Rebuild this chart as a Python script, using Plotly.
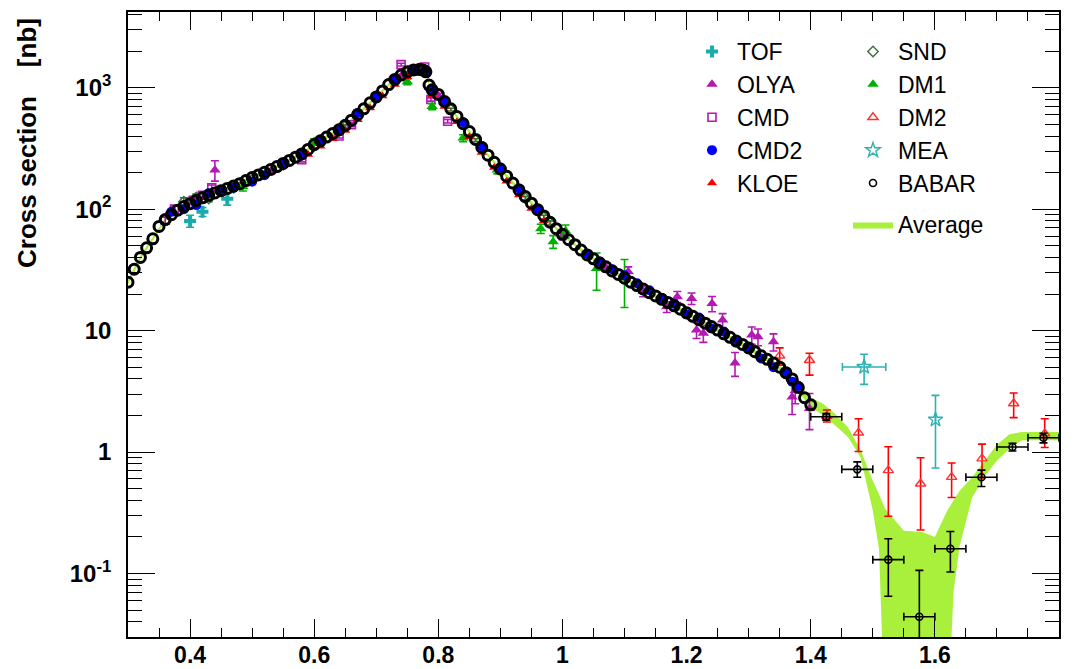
import math
import plotly.graph_objects as go

# ---------------- data ----------------
babar_x = [0.30, 0.31, 0.32, 0.33, 0.34, 0.35, 0.36, 0.37, 0.38, 0.39,
           0.40, 0.41, 0.42, 0.43, 0.44, 0.45, 0.46, 0.47, 0.48, 0.49,
           0.50, 0.51, 0.52, 0.53, 0.54, 0.55, 0.56, 0.57, 0.58, 0.59,
           0.60, 0.61, 0.62, 0.63, 0.64, 0.65, 0.66, 0.67, 0.68, 0.69,
           0.70, 0.71, 0.72, 0.73, 0.74, 0.75, 0.76, 0.77, 0.775, 0.78,
           0.785, 0.79, 0.80, 0.81, 0.82, 0.83, 0.84, 0.85, 0.86, 0.87,
           0.88, 0.89, 0.90, 0.91, 0.92, 0.93, 0.94, 0.95, 0.96, 0.97,
           0.98, 0.99, 1.00, 1.01, 1.02, 1.03, 1.04, 1.05, 1.06, 1.07,
           1.08, 1.09, 1.10, 1.11, 1.12, 1.13, 1.14, 1.15, 1.16, 1.17,
           1.18, 1.19, 1.20, 1.21, 1.22, 1.23, 1.24, 1.25, 1.26, 1.27,
           1.28, 1.29, 1.30, 1.31, 1.32, 1.33, 1.34, 1.35, 1.36, 1.37,
           1.38, 1.39, 1.40]
babar_y = [25, 32, 40, 48, 57, 72, 82, 90, 98, 105,
           111, 118, 124, 130, 136, 142, 148, 155, 162, 172,
           182, 191, 201, 212, 224, 238, 252, 268, 285, 310,
           340, 365, 392, 420, 450, 490, 540, 600, 670, 750,
           840, 940, 1060, 1170, 1270, 1350, 1400, 1420, 1400, 1350,
           1050, 960, 880, 770, 670, 580, 505, 435, 375, 322,
           278, 243, 214, 187, 164, 144, 127, 112, 99, 88,
           78, 69, 62, 56, 51, 46, 42, 39, 36, 33.5,
           31, 29, 27, 25, 23.5, 22, 20.5, 19.3, 18.1, 17,
           16, 15, 14, 13.1, 12.3, 11.5, 10.8, 10.1, 9.4, 8.8,
           8.2, 7.7, 7.2, 6.7, 6.2, 5.8, 5.4, 5.0, 4.5, 4.0,
           3.4, 2.8, 2.45]

babar_hi_x = [1.425, 1.475, 1.525, 1.575, 1.625, 1.675, 1.725, 1.775]
babar_hi_y = [1.95, 0.72, 0.13, 0.044, 0.16, 0.62, 1.10, 1.31]
babar_hi_eup = [0.12, 0.11, 0.063, 0.062, 0.062, 0.09, 0.08, 0.12]
babar_hi_edn = [0.12, 0.10, 0.065, 0.040, 0.057, 0.10, 0.08, 0.12]
babar_hi_ex = [0.025, 0.025, 0.025, 0.025, 0.025, 0.025, 0.025, 0.025]

tof_x = [0.40, 0.42, 0.46]
tof_y = [80, 95, 122]
tof_e = [9, 8, 14]

olya_x = [0.41, 0.44, 0.53, 0.64, 0.74, 0.80, 0.90, 1.00, 1.07, 1.106,
          1.13, 1.168, 1.185, 1.208, 1.216, 1.227, 1.241, 1.258, 1.278,
          1.305, 1.315, 1.34, 1.37, 1.375, 1.398]
olya_y = [115, 210, 205, 440, 1240, 860, 210, 60, 33, 30.5,
          21, 15.7, 19, 18.4, 10.1, 9.5, 16.7, 12.2, 5.4,
          9.2, 8.9, 8.1, 2.84, 3.2, 2.28]
olya_e = [8, 40, 10, 20, 50, 40, 12, 4, 2.5, 3,
          2, 1.6, 2, 2, 1.5, 1.5, 2.4, 1.6, 1.2,
          1.5, 1.4, 1.3, 0.8, 0.7, 0.75]

cmd_x = [0.36, 0.375, 0.405, 0.42, 0.435, 0.58, 0.64, 0.66, 0.74, 0.778, 0.788, 0.815]
cmd_y = [81, 100, 118, 130, 150, 255, 400, 495, 1550, 1480, 800, 530]
cmd_e = [5, 6, 7, 7, 8, 10, 15, 18, 40, 40, 25, 18]

cmd2_x = [0.37, 0.39, 0.41, 0.43, 0.45, 0.47, 0.50, 0.52, 0.55, 0.58,
          0.61, 0.64, 0.67, 0.70, 0.73, 0.76, 0.78, 0.79, 0.81, 0.84,
          0.87, 0.90, 0.93, 0.96, 1.04, 1.06, 1.08, 1.10, 1.12, 1.14,
          1.16, 1.18, 1.20, 1.22, 1.24, 1.26, 1.28, 1.30, 1.32, 1.34,
          1.36, 1.37, 1.38]
cmd2_y = [95, 100, 108, 135, 140, 150, 168, 190, 240, 290,
          370, 460, 620, 860, 1150, 1420, 1380, 960, 780, 520,
          330, 220, 148, 101, 43, 37, 32, 28.5, 24.5, 21.5,
          18.5, 16.6, 13.6, 12.8, 10.4, 9.8, 8.0, 7.1, 5.9, 5.0,
          4.4, 3.8, 3.5]

kloe_x = [0.59, 0.61, 0.63, 0.65, 0.67, 0.69, 0.71, 0.73, 0.75, 0.77,
          0.79, 0.81, 0.83, 0.85, 0.87, 0.89, 0.91, 0.93, 0.95, 0.97]
kloe_y = [282, 330, 380, 445, 545, 680, 855, 1060, 1230, 1300,
          870, 700, 525, 395, 292, 220, 170, 131, 101, 80]

snd_x = [0.39, 0.41, 0.43, 0.45, 0.47, 0.50, 0.55, 0.60, 0.65, 0.70,
         0.75, 0.78, 0.82, 0.86, 0.90, 0.94, 0.97, 0.98, 1.00]
snd_y = [115, 125, 122, 140, 150, 175, 232, 330, 480, 830,
         1330, 1360, 660, 370, 210, 123, 86, 77, 62]
snd_e = [9, 8, 7, 7, 6, 6, 8, 10, 14, 22, 30, 30, 18, 10, 6, 4, 3, 3, 3]

dm1_x = [0.485, 0.60, 0.70, 0.75, 0.79, 0.84, 0.895, 0.965, 0.985, 1.005, 1.055, 1.10]
dm1_y = [153, 360, 830, 1120, 700, 385, 210, 69, 54, 66, 32.5, 27]
dm1_e = [12, 20, 40, 60, 40, 25, 15, 6, 6.5, 8, 11, 11.5]

dm2_x = [1.35, 1.398, 1.426, 1.477, 1.525, 1.577, 1.627, 1.676, 1.727, 1.777]
dm2_y = [6.2, 5.7, 1.97, 1.44, 0.706, 0.548, 0.622, 0.883, 2.51, 1.42]
dm2_eup = [1.0, 0.8, 0.25, 0.44, 0.40, 0.35, 0.19, 0.28, 0.55, 0.46]
dm2_edn = [1.0, 1.4, 0.20, 0.43, 0.41, 0.32, 0.20, 0.27, 0.59, 0.33]

mea_x = [1.486, 1.601]
mea_y = [5.02, 1.85]
mea_eup = [1.36, 1.08]
mea_edn = [1.41, 1.11]
mea_ex = [0.035, 0.0]

avg_x = [0.30, 0.32, 0.34, 0.36, 0.38, 0.40, 0.42, 0.44, 0.46, 0.48,
         0.50, 0.52, 0.54, 0.56, 0.58, 0.60, 0.62, 0.64, 0.66, 0.68,
         0.70, 0.72, 0.74, 0.76, 0.775, 0.78, 0.785, 0.79, 0.80, 0.82,
         0.84, 0.86, 0.88, 0.90, 0.92, 0.94, 0.96, 0.98, 1.00, 1.02,
         1.04, 1.06, 1.08, 1.10, 1.12, 1.14, 1.16, 1.18, 1.20, 1.22,
         1.24, 1.26, 1.28, 1.30, 1.32, 1.34, 1.36, 1.38, 1.40, 1.42,
         1.44, 1.46, 1.48, 1.50, 1.51, 1.52, 1.55, 1.58, 1.60, 1.62,
         1.63, 1.64, 1.66, 1.68, 1.70, 1.72, 1.74, 1.80]
avg_lo = [24, 38.5, 55, 79, 94.5, 107, 120, 131.5, 143, 157,
          176, 195, 217, 244, 276, 330, 380, 436, 524, 650,
          815, 1030, 1232, 1358, 1358, 1310, 1018, 931, 854, 650,
          490, 364, 270, 208, 159, 123, 96, 75.5, 60, 49.5,
          40.5, 34.8, 30, 26.1, 22.7, 19.8, 17.5, 15.5, 13.5, 11.9,
          10.4, 9.1, 7.9, 6.9, 5.95, 5.15, 4.3, 3.1, 2.35, 2.0,
          1.65, 1.33, 0.91, 0.33, 0.16, 0.005, 0.005, 0.005, 0.005, 0.005,
          0.07, 0.17, 0.42, 0.63, 0.85, 1.06, 1.25, 1.25]
avg_hi = [26.5, 41.5, 59, 85, 101.5, 115, 128, 140.5, 153, 167,
          188, 207, 231, 260, 294, 350, 404, 464, 556, 690,
          865, 1090, 1308, 1442, 1442, 1390, 1082, 989, 906, 690,
          520, 386, 286, 220, 169, 131, 102, 80.5, 64, 52.5,
          43.5, 37.2, 32, 27.9, 24.3, 21.2, 18.7, 16.5, 14.5, 12.7,
          11.2, 9.7, 8.5, 7.5, 6.45, 5.65, 4.7, 3.7, 2.8, 2.5,
          2.05, 1.6, 1.05, 0.58, 0.45, 0.34, 0.225, 0.22, 0.20, 0.33,
          0.40, 0.48, 0.62, 0.85, 1.15, 1.40, 1.46, 1.46]

y_tick_vals = [0.1, 1, 10, 100, 1000]
y_tick_text = ["10<sup>-1</sup>", "1", "10", "10<sup>2</sup>", "10<sup>3</sup>"]
x_tick_vals = [0.4, 0.6, 0.8, 1.0, 1.2, 1.4, 1.6, 1.8]
x_tick_text = ["0.4", "0.6", "0.8", "1", "1.2", "1.4", "1.6", "1.8"]

# ---------------- colours ----------------
C_TOF = "#1aabab"
C_MAG = "#b21ab2"
C_BLUE = "#0000ff"
C_RED = "#ff0000"
C_SND = "#3a6e3a"
C_DM1 = "#00b000"
C_DM2 = "#ff3030"
C_MEA = "#2fb2b2"
C_AVG = "#a8f03c"

FONT = "Liberation Sans, Arial, Helvetica, sans-serif"

fig = go.Figure()

# Average band (drawn first, under the points)
fig.add_trace(go.Scatter(
    x=avg_x + avg_x[::-1], y=avg_hi + avg_lo[::-1],
    fill="toself", fillcolor=C_AVG, mode="lines",
    line=dict(width=0, color=C_AVG), name="Average",
    legend="legend3", hoverinfo="skip"))


def err(arr, color, arrminus=None):
    d = dict(type="data", array=arr, color=color, thickness=1.6, width=4, visible=True)
    if arrminus is not None:
        d["symmetric"] = False
        d["arrayminus"] = arrminus
    return d


fig.add_trace(go.Scatter(x=tof_x, y=tof_y, mode="markers", name="TOF",
                         marker=dict(symbol="cross", size=10, color=C_TOF),
                         error_y=err(tof_e, C_TOF), legend="legend", legendrank=1))
fig.add_trace(go.Scatter(x=olya_x, y=olya_y, mode="markers", name="OLYA",
                         marker=dict(symbol="triangle-up", size=10, color=C_MAG),
                         error_y=err(olya_e, C_MAG), legend="legend", legendrank=2))
fig.add_trace(go.Scatter(x=cmd_x, y=cmd_y, mode="markers", name="CMD",
                         marker=dict(symbol="square-open", size=8, color=C_MAG, line=dict(width=1.6, color=C_MAG)),
                         error_y=err(cmd_e, C_MAG), legend="legend", legendrank=3))
fig.add_trace(go.Scatter(x=snd_x, y=snd_y, mode="markers", name="SND",
                         marker=dict(symbol="diamond-open", size=8, color=C_SND, line=dict(width=1.4, color=C_SND)),
                         error_y=err(snd_e, C_SND), legend="legend2", legendrank=1))
fig.add_trace(go.Scatter(x=dm1_x, y=dm1_y, mode="markers", name="DM1",
                         marker=dict(symbol="triangle-up", size=10, color=C_DM1),
                         error_y=err(dm1_e, C_DM1), legend="legend2", legendrank=2))
fig.add_trace(go.Scatter(x=dm2_x, y=dm2_y, mode="markers", name="DM2",
                         marker=dict(symbol="triangle-up-open", size=9, color=C_DM2, line=dict(width=1.4, color=C_DM2)),
                         error_y=err(dm2_eup, C_RED, dm2_edn), legend="legend2", legendrank=3))
fig.add_trace(go.Scatter(x=mea_x, y=mea_y, mode="markers", name="MEA",
                         marker=dict(symbol="star-open", size=11, color=C_MEA, line=dict(width=1.4, color=C_MEA)),
                         error_y=err(mea_eup, C_MEA, mea_edn),
                         error_x=dict(type="data", array=mea_ex, color=C_MEA, thickness=1.6, width=4),
                         legend="legend2", legendrank=4))
fig.add_trace(go.Scatter(x=kloe_x, y=kloe_y, mode="markers", name="KLOE",
                         marker=dict(symbol="triangle-up", size=9, color=C_RED),
                         legend="legend", legendrank=5))
fig.add_trace(go.Scatter(x=cmd2_x, y=cmd2_y, mode="markers", name="CMD2",
                         marker=dict(symbol="circle", size=10, color=C_BLUE),
                         legend="legend", legendrank=4))
fig.add_trace(go.Scatter(x=babar_x, y=babar_y, mode="markers", name="BABAR",
                         marker=dict(symbol="circle-open", size=10, color="black", line=dict(width=3.0, color="black")),
                         legend="legend2", showlegend=False))
fig.add_trace(go.Scatter(x=babar_hi_x, y=babar_hi_y, mode="markers", name="BABAR",
                         marker=dict(symbol="circle-open", size=7, color="black", line=dict(width=1.6, color="black")),
                         error_y=err(babar_hi_eup, "black", babar_hi_edn),
                         error_x=dict(type="data", array=babar_hi_ex, color="black", thickness=1.6, width=4),
                         legend="legend2", legendrank=5))

# minor ticks
y_minor = []
for dec in [0.01, 0.1, 1, 10, 100, 1000]:
    for m in range(2, 10):
        v = m * dec
        if 0.03 <= v <= 4200 and v not in y_tick_vals:
            y_minor.append(v)

leg_font = dict(family=FONT, size=23, color="black")

fig.update_layout(
    width=1075, height=669,
    margin=dict(l=128, r=16, t=12, b=32),
    paper_bgcolor="white", plot_bgcolor="white",
    font=dict(family=FONT, color="black"),
    xaxis=dict(range=[0.3, 1.8], showgrid=False, zeroline=False, automargin=False,
               showline=True, linecolor="black", linewidth=1.6, mirror="allticks",
               ticks="inside", ticklen=18, tickwidth=1.3, tickcolor="black",
               tickmode="array", tickvals=x_tick_vals, ticktext=x_tick_text,
               tickfont=dict(family=FONT, size=23, weight="bold", color="black"),
               ticklabelstandoff=-3,
               minor=dict(ticks="inside", ticklen=9, tickwidth=1.1, tickcolor="black",
                          dtick=0.05, tick0=0.3, showgrid=False)),
    yaxis=dict(type="log", range=[math.log10(0.03), math.log10(4200)],
               showgrid=False, zeroline=False, automargin=False,
               showline=True, linecolor="black", linewidth=1.6, mirror="allticks",
               ticks="inside", ticklen=27, tickwidth=1.3, tickcolor="black",
               tickmode="array", tickvals=y_tick_vals, ticktext=y_tick_text,
               tickfont=dict(family=FONT, size=24, weight="bold", color="black"),
               ticklabelstandoff=10,
               minor=dict(ticks="inside", ticklen=14, tickwidth=1.1, tickcolor="black",
                          tickmode="array", tickvals=y_minor, showgrid=False)),
    legend=dict(x=(687 - 128) / 931, y=1 - (30 - 12) / 625, xanchor="left", yanchor="top",
                font=leg_font, bgcolor="rgba(0,0,0,0)", borderwidth=0, itemwidth=40),
    legend2=dict(x=(848 - 128) / 931, y=1 - (30 - 12) / 625, xanchor="left", yanchor="top",
                 font=leg_font, bgcolor="rgba(0,0,0,0)", borderwidth=0, itemwidth=40),
    legend3=dict(x=(848 - 128) / 931, y=1 - (203 - 12) / 625, xanchor="left", yanchor="top",
                 font=leg_font, bgcolor="rgba(0,0,0,0)", borderwidth=0, itemwidth=40),
    showlegend=True,
    annotations=[dict(
        text="Cross section\u00a0\u00a0\u00a0\u00a0[nb]", textangle=-90,
        xref="paper", yref="paper", x=(27 - 128) / 931, y=1 - (143 - 12) / 625,
        xanchor="center", yanchor="middle", showarrow=False,
        font=dict(family=FONT, size=26, weight="bold", color="black"))],
)

fig.write_html("out.html")
